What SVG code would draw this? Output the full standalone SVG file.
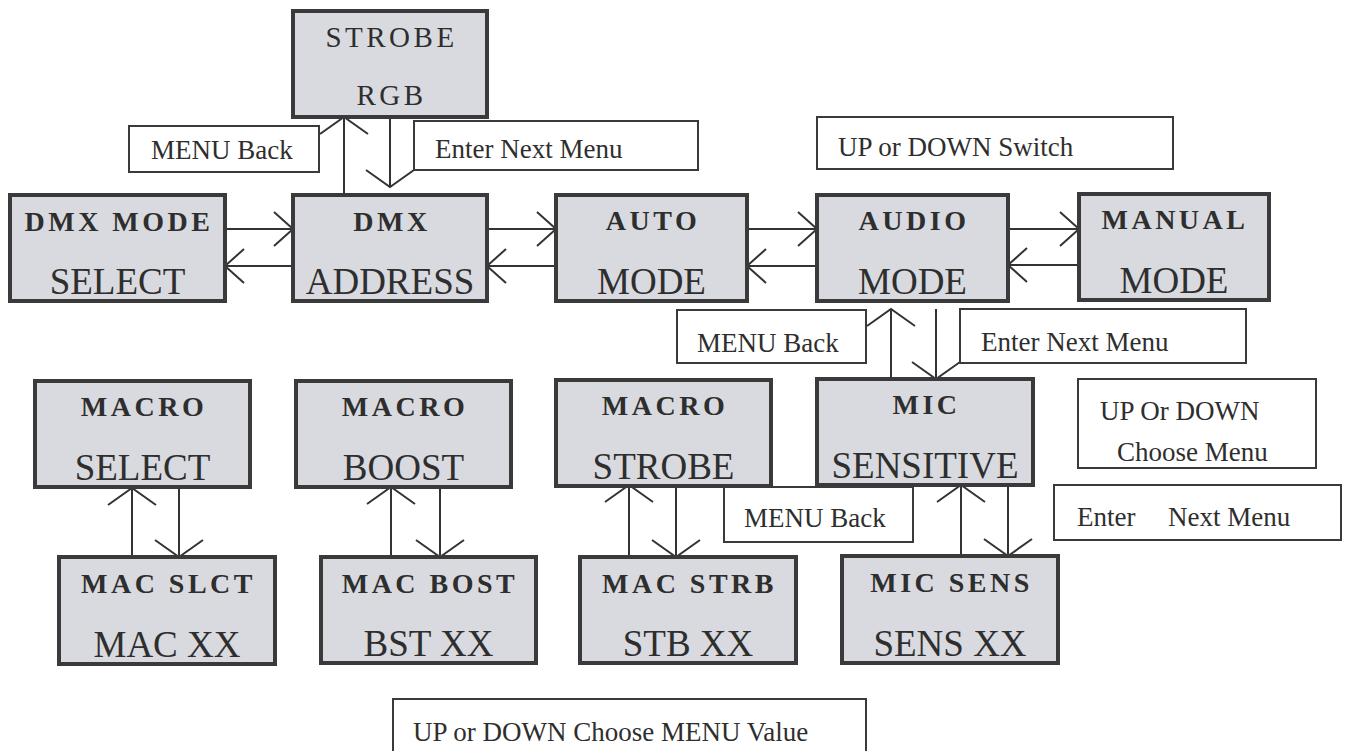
<svg xmlns="http://www.w3.org/2000/svg" width="1348" height="751" viewBox="0 0 1348 751">
<defs>
<marker id="ah" markerUnits="userSpaceOnUse" markerWidth="44" markerHeight="44" viewBox="-22 -22 44 44" refX="0" refY="0" orient="auto">
<path d="M-19,-17 L0,0 L-19,17" fill="none" stroke="#333" stroke-width="2"/>
</marker>
<marker id="av" markerUnits="userSpaceOnUse" markerWidth="52" markerHeight="52" viewBox="-26 -26 52 52" refX="0" refY="0" orient="auto">
<path d="M-17,-24 L0,0 L-17,24" fill="none" stroke="#333" stroke-width="2"/>
</marker>
<style>
.box{fill:#d9dadf;stroke:#3a3a3a;stroke-width:4}
.lbl{fill:#fff;stroke:#3a3a3a;stroke-width:2}
.t1{font-family:"Liberation Serif",serif;font-weight:bold;font-size:28px;letter-spacing:3.5px;fill:#2e2e2e;text-anchor:middle}
.t2{font-family:"Liberation Serif",serif;font-size:37px;fill:#2e2e2e;text-anchor:middle}
.t3{font-family:"Liberation Serif",serif;font-size:29px;letter-spacing:3.5px;fill:#2e2e2e;text-anchor:middle}
.tl{font-family:"Liberation Serif",serif;font-size:27px;fill:#2e2e2e}
.c{stroke:#333;stroke-width:2;fill:none}
.h{marker-end:url(#ah)}
.v{marker-end:url(#av)}
</style>
</defs>
<rect width="1348" height="751" fill="#fff"/>

<g id="connectors">
<line class="c h" x1="225" y1="229" x2="293" y2="229"/>
<line class="c h" x1="293" y1="266" x2="225" y2="266"/>
<line class="c h" x1="487" y1="229" x2="556" y2="229"/>
<line class="c h" x1="556" y1="266" x2="487" y2="266"/>
<line class="c h" x1="747" y1="229" x2="817" y2="229"/>
<line class="c h" x1="817" y1="266" x2="747" y2="266"/>
<line class="c h" x1="1008" y1="229" x2="1079" y2="229"/>
<line class="c h" x1="1079" y1="265" x2="1008" y2="265"/>
<line class="c v" x1="344" y1="195" x2="344" y2="117"/>
<line class="c v" x1="390" y1="117" x2="390" y2="187"/>
<line class="c v" x1="891" y1="379" x2="891" y2="309"/>
<line class="c v" x1="936" y1="309" x2="936" y2="379"/>
<line class="c v" x1="132" y1="557" x2="132" y2="488"/>
<line class="c v" x1="179" y1="488" x2="179" y2="557"/>
<line class="c v" x1="391" y1="557" x2="391" y2="487"/>
<line class="c v" x1="440" y1="487" x2="440" y2="557"/>
<line class="c v" x1="629" y1="557" x2="629" y2="485"/>
<line class="c v" x1="676" y1="485" x2="676" y2="557"/>
<line class="c v" x1="961" y1="556" x2="961" y2="485"/>
<line class="c v" x1="1008" y1="485" x2="1008" y2="556"/>
</g>

<g id="lbl-menu-back-top"><rect class="lbl" x="129" y="126" width="190" height="46"/><text class="tl" x="151" y="159">MENU Back</text></g>
<g id="lbl-enter-top"><rect class="lbl" x="414" y="121" width="284" height="49"/><text class="tl" x="435" y="158">Enter Next Menu</text></g>
<g id="lbl-switch"><rect class="lbl" x="817" y="117" width="356" height="52"/><text class="tl" x="838" y="156">UP or DOWN Switch</text></g>
<g id="lbl-menu-back-mid"><rect class="lbl" x="677" y="310" width="189" height="53"/><text class="tl" x="697" y="352">MENU Back</text></g>
<g id="lbl-enter-mid"><rect class="lbl" x="960" y="309" width="286" height="54"/><text class="tl" x="981" y="351">Enter Next Menu</text></g>
<g id="lbl-choose-menu"><rect class="lbl" x="1078" y="379" width="238" height="89"/><text class="tl" x="1100" y="420">UP Or DOWN</text><text class="tl" x="1117" y="461">Choose Menu</text></g>
<g id="lbl-enter-right"><rect class="lbl" x="1054" y="485" width="287" height="55"/><text class="tl" y="526"><tspan x="1077">Enter</tspan><tspan x="1168">Next Menu</tspan></text></g>
<g id="lbl-menu-back-low"><rect class="lbl" x="724" y="487" width="189" height="55"/><text class="tl" x="744" y="527">MENU Back</text></g>
<g id="lbl-value"><rect class="lbl" x="393" y="699" width="473" height="70"/><text class="tl" x="413" y="741">UP or DOWN Choose MENU Value</text></g>

<g id="strobe-rgb"><rect class="box" x="293" y="11" width="194" height="106"/><text class="t3" x="391.5" y="47">STROBE</text><text class="t3" x="391.5" y="105">RGB</text></g>

<g id="dmx-mode-select"><rect class="box" x="10" y="195" width="215" height="106"/><text class="t1" x="119" y="231">DMX MODE</text><text class="t2" x="117.5" y="294">SELECT</text></g>
<g id="dmx-address"><rect class="box" x="293" y="195" width="194" height="106"/><text class="t1" x="392" y="231">DMX</text><text class="t2" x="390" y="294">ADDRESS</text></g>
<g id="auto-mode"><rect class="box" x="556" y="195" width="191" height="106"/><text class="t1" x="653" y="230">AUTO</text><text class="t2" x="651.5" y="294">MODE</text></g>
<g id="audio-mode"><rect class="box" x="817" y="195" width="191" height="106"/><text class="t1" x="914" y="230">AUDIO</text><text class="t2" x="912.5" y="294">MODE</text></g>
<g id="manual-mode"><rect class="box" x="1079" y="194" width="190" height="106"/><text class="t1" x="1175" y="229">MANUAL</text><text class="t2" x="1174" y="293">MODE</text></g>

<g id="macro-select"><rect class="box" x="35" y="381" width="215" height="106"/><text class="t1" x="144" y="416">MACRO</text><text class="t2" x="142.5" y="480">SELECT</text></g>
<g id="macro-boost"><rect class="box" x="296" y="381" width="215" height="106"/><text class="t1" x="405" y="416">MACRO</text><text class="t2" x="403.5" y="480">BOOST</text></g>
<g id="macro-strobe"><rect class="box" x="556" y="380" width="215" height="106"/><text class="t1" x="665" y="415">MACRO</text><text class="t2" x="663.5" y="479">STROBE</text></g>
<g id="mic-sensitive"><rect class="box" x="817" y="379" width="216" height="106"/><text class="t1" x="926.5" y="414">MIC</text><text class="t2" x="925" y="478">SENSITIVE</text></g>

<g id="mac-slct"><rect class="box" x="59" y="557" width="216" height="107"/><text class="t1" x="168.5" y="593">MAC SLCT</text><text class="t2" x="167" y="657">MAC XX</text></g>
<g id="mac-bost"><rect class="box" x="321" y="557" width="215" height="106"/><text class="t1" x="430" y="593">MAC BOST</text><text class="t2" x="428.5" y="656">BST XX</text></g>
<g id="mac-strb"><rect class="box" x="580" y="557" width="216" height="106"/><text class="t1" x="689.5" y="593">MAC STRB</text><text class="t2" x="688" y="656">STB XX</text></g>
<g id="mic-sens"><rect class="box" x="842" y="556" width="216" height="107"/><text class="t1" x="951.5" y="592">MIC SENS</text><text class="t2" x="950" y="656">SENS XX</text></g>
</svg>
